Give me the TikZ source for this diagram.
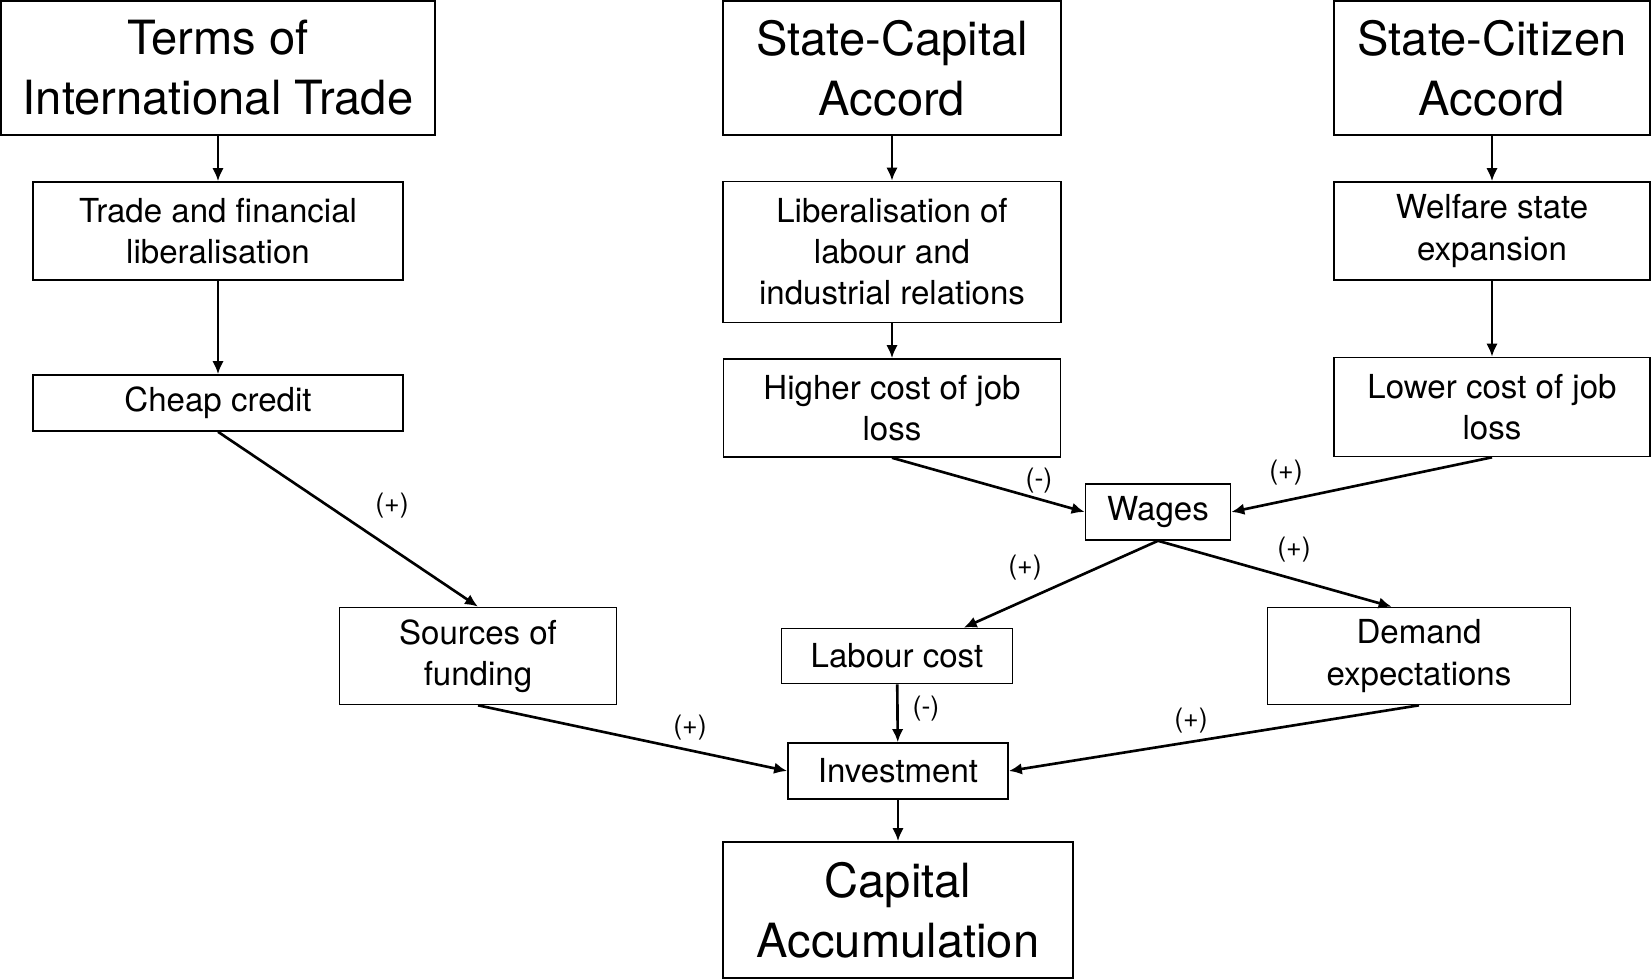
\documentclass[tikz,border=0pt]{standalone}
\usepackage{fontspec}
\setmainfont{TeX Gyre Heros}
\usepackage{tikz}
\usetikzlibrary{
    arrows.meta,
    positioning
}

\begin{document}
\begin{tikzpicture}[
        x=0.01cm, y=-0.01cm,
        >={Latex[length=1.3mm,width=1.15mm]},
        bigbox/.style={
            draw,
            line width=0.45pt,
            align=center,
            inner sep=0pt,
            font=\fontsize{13.4}{17}\selectfont
        },
        box/.style={
            draw,
            line width=0.45pt,
            align=center,
            inner sep=0pt,
            font=\fontsize{9.4}{11.7}\selectfont
        },
        sign/.style={
            inner sep=0pt,
            font=\fontsize{7.6}{9}\selectfont
        },
        link/.style={->, line width=0.75pt}
    ]
    \useasboundingbox (0,0) rectangle (1651,980);

    % top row
    \node[bigbox, minimum width=4.34cm, minimum height=1.34cm] (terms) at (218,68) {Terms of\\International Trade};
    \node[bigbox, minimum width=3.38cm, minimum height=1.34cm] (capacc) at (892,68) {State-Capital\\Accord};
    \node[bigbox, minimum width=3.16cm, minimum height=1.34cm] (citacc) at (1492,68) {State-Citizen\\Accord};

    % left column
    \node[box, minimum width=3.70cm, minimum height=0.98cm] (trade) at (218,231) {Trade and financial\\liberalisation};
    \node[box, minimum width=3.70cm, minimum height=0.56cm] (cheap) at (218,403) {Cheap credit};
    \node[box, minimum width=2.77cm, minimum height=0.97cm] (sources) at (478,656) {Sources of\\funding};

    % middle column
    \node[box, minimum width=3.38cm, minimum height=1.41cm] (liblab) at (892,252) {Liberalisation of\\labour and\\industrial relations};
    \node[box, minimum width=3.37cm, minimum height=0.98cm] (higher) at (892,408) {Higher cost of job\\loss};
    \node[box, minimum width=1.45cm, minimum height=0.56cm] (wages) at (1158,512) {Wages};
    \node[box, minimum width=2.31cm, minimum height=0.55cm] (labour) at (897,656) {Labour cost};
    \node[box, minimum width=2.20cm, minimum height=0.56cm] (invest) at (898,771) {Investment};
    \node[bigbox, minimum width=3.50cm, minimum height=1.36cm] (capital) at (898,910) {Capital\\Accumulation};

    % right column
    \node[box, minimum width=3.16cm, minimum height=0.98cm] (welfare) at (1492,231) {Welfare state\\expansion};
    \node[box, minimum width=3.16cm, minimum height=0.99cm] (lower) at (1492,407) {Lower cost of job\\loss};
    \node[box, minimum width=3.03cm, minimum height=0.97cm] (demand) at (1419,656) {Demand\\expectations};

    % signs
    \node[sign] (s1) at (392,506) {(+)};
    \node[sign] (s2) at (690,728) {(+)};
    \node[sign] (s3) at (1039,481) {(-)};
    \node[sign] (s4) at (1286,473) {(+)};
    \node[sign] (s5) at (1025,568) {(+)};
    \node[sign] (s6) at (1294,550) {(+)};
    \node[sign] (s7) at (926,709) {(-)};
    \node[sign] (s8) at (1191,721) {(+)};

    \draw[link] (terms) -- (trade);
    \draw[link] (trade) -- (cheap);
    \draw[link] (cheap.south) -- (sources.north);
    \draw[link] (sources.south) -- (invest.west);

    \draw[link] (capacc) -- (liblab);
    \draw[link] (liblab) -- (higher);
    \draw[link] (higher.south) -- (wages.west);

    \draw[link] (citacc) -- (welfare);
    \draw[link] (welfare) -- (lower);
    \draw[link] (lower.south) -- (wages.east);

    \draw[link] (wages.south) -- (labour.23);
    \draw[link] (wages.south) -- (demand.119);
    \draw[link] (labour) -- (invest);
    \draw[link] (demand.south) -- (invest.east);
    \draw[link] (invest) -- (capital);

\end{tikzpicture}
\end{document}
